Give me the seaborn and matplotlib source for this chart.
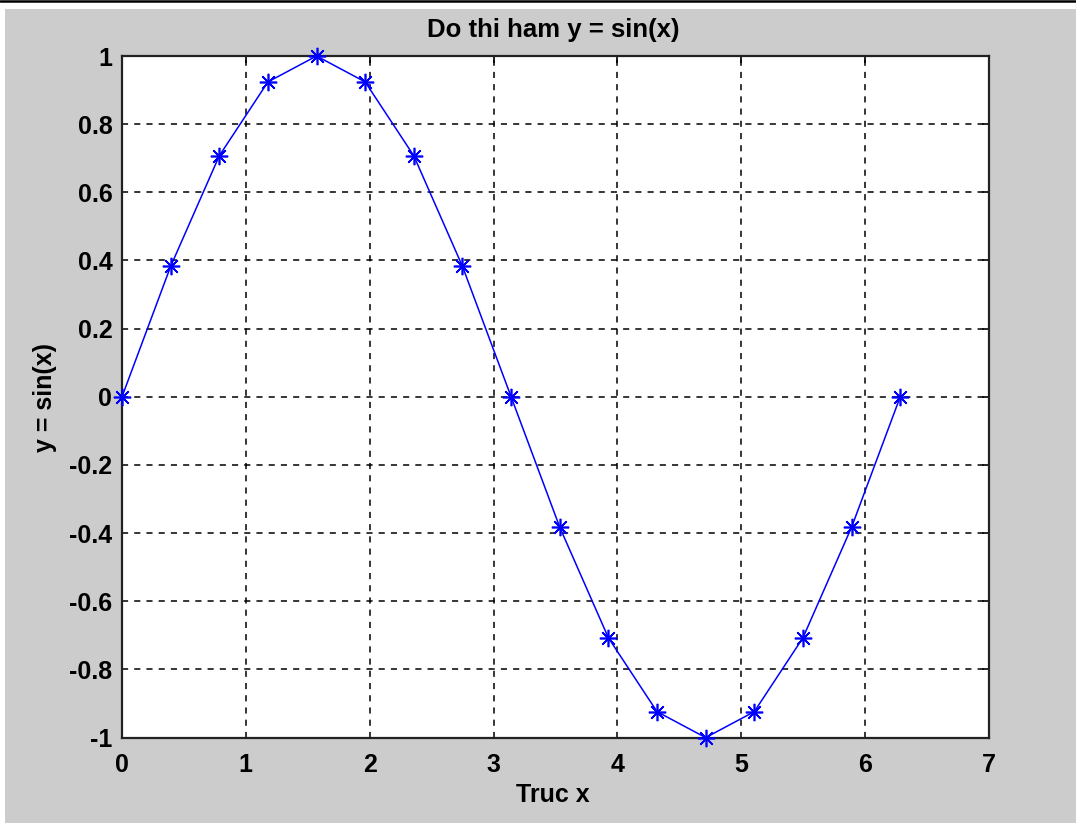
import matplotlib
matplotlib.use("Agg")
import matplotlib.pyplot as plt
import matplotlib.patches as mpatches
import matplotlib.lines as mlines
from matplotlib.ticker import FormatStrFormatter
import seaborn as sns
import pandas as pd

x_values = [0.0, 0.3927, 0.7854, 1.1781, 1.5708, 1.9635, 2.3562, 2.7489, 3.1416,
            3.5343, 3.9270, 4.3197, 4.7124, 5.1051, 5.4978, 5.8905, 6.2832]
y_values = [0.0, 0.3827, 0.7071, 0.9239, 1.0, 0.9239, 0.7071, 0.3827, 0.0,
            -0.3827, -0.7071, -0.9239, -1.0, -0.9239, -0.7071, -0.3827, 0.0]
x_ticks = [0, 1, 2, 3, 4, 5, 6, 7]
y_ticks = [-1, -0.8, -0.6, -0.4, -0.2, 0, 0.2, 0.4, 0.6, 0.8, 1]

sns.set_theme(style="white")
plt.rcParams['font.family'] = ['Liberation Sans', 'DejaVu Sans']
plt.rcParams['font.weight'] = 'bold'

W, H = 1076, 823
fig = plt.figure(figsize=(W / 100, H / 100), dpi=100, facecolor='white')

# gray window background
fig.patches.append(mpatches.Rectangle((5 / W, 0), 1 - 5 / W, 1 - 9 / H,
                                      transform=fig.transFigure, facecolor='#cccccc',
                                      edgecolor='none', zorder=-10))
fig.lines.append(mlines.Line2D([0, 1], [1 - 1.2 / H, 1 - 1.2 / H], transform=fig.transFigure,
                               color='black', linewidth=1.8, zorder=-10))

ax = fig.add_axes([122 / W, 1 - 737.6 / H, (989 - 122) / W, (737.6 - 56) / H])
ax.set_facecolor('white')

df = pd.DataFrame({'x': x_values, 'y': y_values})
sns.lineplot(data=df, x='x', y='y', ax=ax, color='#0000ff', linewidth=1.1,
             marker=(8, 2, 0), markersize=12.5, markeredgewidth=1.2,
             markeredgecolor='#0000ff', zorder=5, clip_on=False)

ax.set_xlim(0, 7)
ax.set_ylim(-1, 1)
ax.set_xticks(x_ticks)
ax.set_yticks(y_ticks)
ax.yaxis.set_major_formatter(FormatStrFormatter('%g'))
ax.xaxis.set_major_formatter(FormatStrFormatter('%g'))

ax.grid(True, color='black', linestyle=(0, (4, 4)), linewidth=1.1)
ax.set_axisbelow(True)
for s in ax.spines.values():
    s.set_color('#222222')
    s.set_linewidth(1.6)
    s.set_visible(True)
    s.set_zorder(2)

ax.tick_params(axis='both', direction='in', length=5, width=1.2, color='black',
               top=True, right=True, labelsize=18, labelcolor='black')
ax.tick_params(axis='x', pad=11)
ax.tick_params(axis='y', pad=7)
for lbl in ax.get_xticklabels() + ax.get_yticklabels():
    lbl.set_fontweight('bold')

ax.set_xlabel('')
ax.set_ylabel('')
fig.text(553 / W, 1 - 30 / H, 'Do thi ham y = sin(x)', ha='center', va='center',
         fontsize=18.5, fontweight='bold', color='black')
fig.text(553 / W, 1 - 795 / H, 'Truc x', ha='center', va='center',
         fontsize=18, fontweight='bold', color='black')
fig.text(45 / W, 1 - 397 / H, 'y = sin(x)', ha='center', va='center', rotation=90,
         fontsize=18, fontweight='bold', color='black')

fig.savefig('out.png', dpi=100, facecolor='white')
